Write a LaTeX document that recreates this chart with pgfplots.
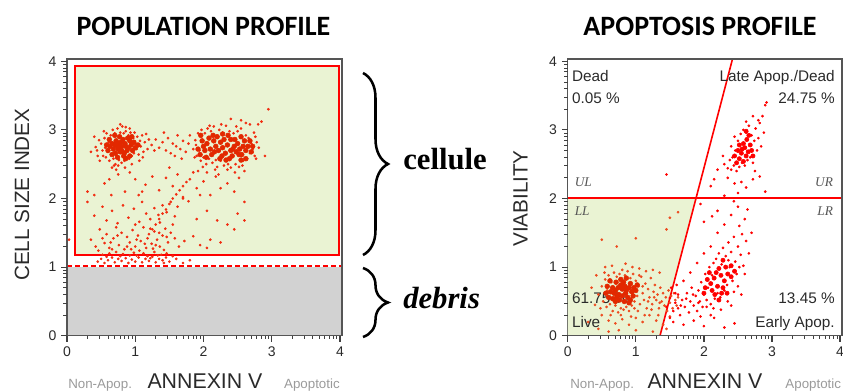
\documentclass[border=0pt]{standalone}
\usepackage{pgfplots}
\pgfplotsset{compat=1.18}
\usepackage{fontspec}
\setmainfont{Liberation Sans}
\newfontfamily\titlefont{Carlito}
\newfontfamily\serifont{Liberation Serif}
\usetikzlibrary{decorations.pathreplacing}
\definecolor{greenfill}{HTML}{EAF3D3}
\definecolor{grayfill}{HTML}{D2D2D2}
\definecolor{ptred}{HTML}{F22C10}
\definecolor{ptlive}{HTML}{EE4A1E}
\definecolor{ptcore}{HTML}{E22800}
\definecolor{framegray}{HTML}{555555}
\definecolor{ticktext}{HTML}{2A2A2A}
\definecolor{lightlab}{HTML}{9A9A9A}
\tikzset{majt/.style={draw=black!75, line width=0.9pt}, mint/.style={draw=black!75, line width=0.6pt}}
\newcommand\flowticks[4]{%
  \foreach \v in {0,1,2,3,4}{
    \draw[majt] ({#1pt+\v*#3pt},{#2pt}) -- ++(0pt,-4.5pt);
    \draw[majt] ({#1pt},{#2pt+\v*#4pt}) -- ++(-4.5pt,0pt);
  }
  \foreach \i in {0,1,2,3}{\foreach \m in {0.301,0.477,0.602,0.699,0.778,0.845,0.903,0.954}{
    \draw[mint] ({#1pt+(\i+\m)*#3pt},{#2pt}) -- ++(0pt,-2.8pt);
    \draw[mint] ({#1pt},{#2pt+(\i+\m)*#4pt}) -- ++(-2.8pt,0pt);
  }}
}
\pgfplotsset{flowaxis/.style={
  scale only axis,
  xmin=0, xmax=4.03, ymin=0, ymax=4.03,
  xtick={0,1,2,3,4}, ytick={0,1,2,3,4},
  xtick align=outside, ytick align=outside,
  xtick pos=bottom, ytick pos=left,
  major tick length=4.5pt,
  major tick style={draw=none},
  axis line style={draw=framegray, line width=1.1pt},
  /pgf/number format/assume math mode=true,
  tick label style={font=\fontsize{10.5}{12}\selectfont, text=ticktext},
}}
\begin{document}
\begin{tikzpicture}
\useasboundingbox (0,0) rectangle (632.25pt,-294pt);
% ===================== LEFT: POPULATION PROFILE =====================
\begin{axis}[flowaxis, at={(50.25pt,-251.8pt)}, anchor=south west,
  width=206.3pt, height=207.4pt]
\addplot[fill=grayfill, draw=none] coordinates {(0,0) (4.03,0) (4.03,1.0) (0,1.0)} -- cycle;
\addplot[fill=greenfill, draw=none] coordinates {(0.12,1.17) (3.98,1.17) (3.98,3.93) (0.12,3.93)} -- cycle;
\addplot[red, line width=1.5pt] coordinates {(0.12,1.17) (3.98,1.17) (3.98,3.93) (0.12,3.93)} -- cycle;
\addplot[red, line width=1.2pt, dash pattern=on 4pt off 2pt] coordinates {(0,1.02) (4.03,1.02)};
% sparse points
\addplot[only marks, mark=*, mark size=0.8pt, color=ptred] coordinates {
(0.45,2.62)(0.50,2.80)(0.52,2.70)(0.55,2.88)(0.57,2.60)(0.58,2.95)(0.60,2.68)(0.61,2.82)(0.62,2.55)(0.64,2.92)
(0.65,2.64)(0.67,3.00)(0.68,2.58)(0.70,2.95)(0.71,2.50)(0.73,2.62)(0.74,3.02)(0.76,2.56)(0.78,2.96)(0.80,2.52)
(0.81,3.05)(0.83,2.95)(0.84,2.55)(0.86,2.98)(0.87,2.60)(0.90,2.92)(0.91,2.58)(0.93,2.96)(0.95,2.62)(0.97,2.88)
(0.98,2.66)(1.00,2.80)(1.02,2.72)(1.03,2.90)(1.05,2.64)(1.07,2.84)(1.08,2.76)(1.10,2.92)(1.12,2.68)(1.14,2.82)
(1.16,2.94)(1.18,2.72)(1.20,2.86)(1.24,2.78)(0.42,2.75)(0.48,2.55)(0.66,2.45)(0.72,2.42)(0.85,2.45)(0.75,2.48)
(0.95,2.50)(1.06,2.55)(0.40,2.90)(0.54,2.98)(0.86,3.04)(0.92,3.02)(1.28,2.70)(0.35,2.68)(0.47,2.85)(0.53,2.62)
(0.78,3.08)(0.69,2.48)(0.99,2.96)(1.11,2.60)(0.44,2.70)(0.56,2.74)
(1.35,2.74)(1.40,2.82)(1.45,2.70)(1.48,2.88)(1.52,2.66)(1.55,2.80)(1.60,2.76)(1.62,2.92)(1.66,2.72)(1.70,2.84)
(1.74,2.68)(1.78,2.80)(1.42,2.96)(1.58,2.62)(1.30,2.86)(1.68,2.58)(1.80,2.92)(1.50,2.45)
(1.85,2.72)(1.88,2.85)(1.90,2.62)(1.92,2.95)(1.94,2.70)(1.96,2.55)(1.97,3.00)(2.00,2.60)(2.02,2.95)(2.04,2.50)
(2.06,3.02)(2.08,2.58)(2.11,2.98)(2.13,2.52)(2.15,3.05)(2.18,2.56)(2.20,2.46)(2.23,3.00)(2.25,2.55)(2.28,2.96)
(2.30,2.48)(2.33,3.06)(2.36,2.50)(2.38,2.98)(2.40,2.45)(2.44,2.95)(2.47,2.50)(2.50,2.98)(2.52,2.46)(2.55,3.02)
(2.58,2.55)(2.62,2.92)(2.64,2.58)(2.66,2.88)(2.68,2.66)(2.70,2.80)(2.72,2.72)(2.74,2.96)(2.75,2.62)(2.78,2.82)
(2.62,3.10)(2.68,3.08)(2.55,3.14)(2.40,3.16)(2.80,3.08)(2.85,3.12)(2.95,3.30)(2.90,2.62)(1.92,2.40)(2.05,2.38)
(2.22,2.35)(2.46,2.38)(2.60,2.40)(1.87,2.60)(1.99,2.46)(2.17,2.42)(2.35,2.42)(2.57,2.48)(2.77,2.58)(2.76,2.90)
(2.48,3.05)(2.26,3.08)(2.09,3.06)(1.89,2.78)(2.81,2.74)
(0.45,1.08)(0.50,1.12)(0.55,1.06)(0.60,1.10)(0.66,1.14)(0.70,1.07)(0.75,1.12)(0.80,1.09)(0.86,1.13)(0.90,1.06)
(0.95,1.11)(1.00,1.08)(1.05,1.14)(1.10,1.07)(1.15,1.12)(1.20,1.09)(1.25,1.15)(1.30,1.07)(1.35,1.12)(1.40,1.10)
(1.45,1.14)(1.50,1.08)(1.60,1.12)(1.70,1.06)(1.80,1.10)(0.52,1.18)(0.62,1.20)(0.72,1.22)(0.82,1.19)(0.98,1.21)
(1.12,1.20)(1.28,1.22)(1.38,1.18)(1.46,1.20)(1.18,1.16)(1.33,1.17)(0.92,1.17)(0.58,1.15)(0.78,1.16)(1.02,1.17)
(1.22,1.13)(1.42,1.06)(1.55,1.16)
(0.35,1.40)(0.42,1.30)(0.48,1.55)(0.55,1.35)(0.58,1.48)(0.62,1.28)(0.68,1.42)(0.72,1.58)(0.76,1.32)(0.80,1.50)
(0.84,1.26)(0.88,1.44)(0.92,1.36)(0.96,1.54)(1.00,1.30)(1.04,1.46)(1.08,1.38)(1.12,1.58)(1.16,1.28)(1.20,1.48)
(1.24,1.34)(1.28,1.52)(1.32,1.40)(1.36,1.30)(1.40,1.46)(1.44,1.56)(1.48,1.36)(1.52,1.50)(1.58,1.42)(1.64,1.30)
(1.72,1.38)(1.85,1.45)(1.95,1.32)(2.05,1.28)(2.10,1.40)(2.25,1.36)(0.46,1.24)(0.66,1.26)(1.06,1.24)(1.26,1.27)
(1.42,1.25)(0.88,1.30)(1.18,1.42)(1.35,1.50)(0.52,1.42)(0.74,1.46)(0.94,1.26)(1.14,1.34)(1.30,1.32)(1.46,1.44)
(0.64,1.36)(1.02,1.40)(1.22,1.56)
(0.30,1.95)(0.40,1.75)(0.52,1.88)(0.58,1.68)(0.66,1.82)(0.74,1.64)(0.82,1.90)(0.90,1.72)(0.98,1.85)(1.06,1.66)
(1.10,1.95)(1.16,1.78)(1.22,1.70)(1.28,1.86)(1.34,1.76)(1.40,1.90)(1.46,1.80)(1.52,1.95)(1.58,1.74)(1.62,1.88)
(1.70,2.00)(1.78,1.96)(1.90,1.70)(2.05,1.82)(2.35,1.62)(2.45,1.55)(2.50,1.78)(2.60,1.68)(2.20,1.68)(1.00,1.62)
(1.36,1.65)(1.55,1.62)
(1.25,1.55)(1.30,1.62)(1.35,1.70)(1.40,1.78)(1.45,1.84)(1.50,1.92)(1.55,2.00)(1.60,2.06)(1.65,2.12)(1.70,2.18)
(1.75,2.24)(1.80,2.28)
(0.55,2.22)(0.65,2.05)(0.75,2.35)(0.85,2.10)(1.00,2.28)(1.05,2.05)(1.15,2.20)(1.25,2.32)(1.35,2.12)(1.45,2.30)
(1.55,2.18)(1.85,2.38)(1.90,2.15)(2.00,2.25)(2.10,2.05)(2.18,2.32)(2.25,2.15)(2.35,2.22)(2.45,2.10)(2.52,2.30)
(2.60,1.95)(0.40,2.05)(0.30,2.10)(1.95,2.05)(1.62,2.35)(1.70,2.02)(1.10,2.10)(0.92,2.38)(0.62,2.28)(0.03,1.40)
};
% dense cores
\addplot[only marks, mark=*, mark size=1.8pt, color=ptcore] coordinates {
(0.70,2.78)(0.75,2.72)(0.80,2.76)(0.85,2.80)(0.90,2.74)(0.78,2.68)(0.72,2.84)(0.88,2.70)(0.82,2.86)(0.68,2.72)
(0.94,2.78)(0.76,2.80)(0.84,2.66)(0.66,2.80)(0.92,2.84)(0.80,2.70)(0.74,2.76)(0.86,2.76)(0.79,2.82)(0.71,2.66)
(0.96,2.70)(0.63,2.76)(0.89,2.88)(0.77,2.90)(0.83,2.62)(0.60,2.70)(0.62,2.86)(0.98,2.82)(1.00,2.74)(0.86,2.58)
(0.74,2.60)(0.70,2.92)(0.95,2.90)(0.58,2.78)(1.04,2.78)(0.66,2.64)(0.92,2.62)
(2.05,2.80)(2.10,2.72)(2.15,2.84)(2.18,2.76)(2.22,2.70)(2.25,2.82)(2.28,2.74)(2.32,2.66)(2.35,2.78)(2.40,2.70)
(2.42,2.62)(2.45,2.76)(2.48,2.68)(2.50,2.80)(2.53,2.72)(2.56,2.64)(2.58,2.76)(2.62,2.70)(2.12,2.64)(2.20,2.90)
(2.30,2.86)(2.38,2.58)(2.46,2.86)(2.55,2.56)(2.60,2.84)(2.02,2.70)(2.08,2.88)(2.27,2.62)(2.52,2.64)(2.65,2.76)
(2.00,2.76)(2.16,2.68)(2.43,2.72)(2.36,2.92)(1.98,2.84)(1.92,2.72)(1.95,2.64)(2.04,2.60)(2.24,2.58)(2.33,2.56)
(2.70,2.68)(2.68,2.84)(2.62,2.58)(2.14,2.92)(2.28,2.94)(2.40,2.86)(2.55,2.90)(1.96,2.92)(2.72,2.76)
};
\draw[framegray, line width=1.1pt] (rel axis cs:0,0) rectangle (rel axis cs:1,1);
\end{axis}
% ===================== RIGHT: APOPTOSIS PROFILE =====================
\begin{axis}[flowaxis, at={(425.8pt,-251.8pt)}, anchor=south west,
  width=205.8pt, height=207.4pt]
\addplot[fill=greenfill, draw=none] coordinates {(0,0) (1.355,0) (1.883,2) (0,2)} -- cycle;
\addplot[red, line width=1.5pt] coordinates {(0,2) (4.03,2)};
\addplot[red, line width=1.2pt] coordinates {(1.355,0) (2.419,4.03)};
% live region (orange-red)
\addplot[only marks, mark=*, mark size=0.8pt, color=ptlive] coordinates {
(0.45,0.60)(0.50,0.72)(0.52,0.50)(0.55,0.82)(0.57,0.42)(0.58,0.66)(0.60,0.88)(0.62,0.46)(0.64,0.78)(0.66,0.36)
(0.68,0.92)(0.70,0.44)(0.72,0.86)(0.74,0.34)(0.76,0.90)(0.78,0.40)(0.80,0.96)(0.82,0.38)(0.84,0.88)(0.86,0.42)
(0.88,0.94)(0.90,0.36)(0.92,0.84)(0.94,0.44)(0.96,0.90)(0.98,0.50)(1.00,0.80)(1.02,0.58)(1.04,0.72)(1.06,0.46)
(1.08,0.86)(1.10,0.62)(1.12,0.52)(1.14,0.76)(1.16,0.40)(1.18,0.68)(1.20,0.56)(1.22,0.84)(1.24,0.46)(1.26,0.64)
(1.28,0.74)(1.30,0.52)(1.32,0.60)(1.34,0.40)(1.36,0.70)(1.38,0.50)(1.40,0.62)(1.42,0.44)(1.44,0.56)(1.46,0.36)
(1.48,0.66)(1.50,0.48)(1.52,0.58)(1.54,0.40)(1.56,0.62)(1.58,0.52)(1.60,0.44)(1.62,0.56)(0.50,0.30)(0.60,0.22)
(0.70,0.18)(0.80,0.24)(0.90,0.16)(1.00,0.26)(1.10,0.20)(1.20,0.30)(1.30,0.22)(1.40,0.16)(1.50,0.28)(0.40,0.45)
(0.35,0.70)(0.42,0.88)(0.55,1.00)(0.65,1.02)(0.85,1.05)(0.95,1.00)(1.05,0.98)(1.15,0.94)(1.25,0.96)(1.35,0.92)
(0.30,0.20)(0.45,0.10)(0.60,0.06)(0.75,0.08)(1.00,0.08)(1.25,0.06)(1.45,0.10)(0.50,1.40)(0.72,1.30)(1.00,1.42)
(1.45,1.55)(1.50,1.72)(1.62,1.80)(0.48,0.40)(0.54,0.92)(0.63,0.30)(0.78,0.30)(0.93,0.28)(1.03,0.36)(1.13,0.30)
(1.23,0.38)(1.33,0.30)(1.10,0.72)(1.18,0.50)(1.27,0.56)(1.35,0.48)(1.05,0.88)(0.98,0.40)
};
\addplot[only marks, mark=*, mark size=1.8pt, color=ptcore] coordinates {
(0.70,0.66)(0.75,0.60)(0.80,0.68)(0.85,0.62)(0.90,0.70)(0.78,0.74)(0.72,0.56)(0.88,0.56)(0.82,0.78)(0.66,0.70)
(0.94,0.64)(0.76,0.52)(0.84,0.72)(0.68,0.62)(0.92,0.76)(0.80,0.58)(0.74,0.70)(0.86,0.66)(0.63,0.64)(0.97,0.70)
(0.78,0.82)(0.83,0.50)(0.71,0.78)(0.90,0.48)(0.60,0.56)(0.58,0.72)(0.62,0.80)(0.96,0.58)(1.00,0.66)(0.86,0.84)
(0.70,0.50)(0.66,0.54)(0.92,0.52)(0.56,0.62)(1.02,0.74)
};
% apoptotic populations (pure red)
\addplot[only marks, mark=*, mark size=0.8pt, color=red] coordinates {
(1.45,0.42)(1.50,0.55)(1.55,0.36)(1.58,0.48)(1.62,0.60)(1.65,0.30)(1.68,0.52)(1.72,0.42)(1.75,0.62)(1.78,0.34)
(1.80,0.50)(1.82,0.70)(1.85,0.44)(1.88,0.58)(1.90,0.36)(1.92,0.66)(1.94,0.50)(1.96,0.78)(1.98,0.42)(2.00,0.60)
(2.02,0.90)(2.04,0.52)(2.06,0.70)(2.08,1.00)(2.10,0.46)(2.12,0.88)(2.14,1.06)(2.16,0.54)(2.18,1.12)(2.20,0.62)
(2.22,1.20)(2.24,0.56)(2.26,1.04)(2.28,1.28)(2.30,0.66)(2.32,1.16)(2.34,0.74)(2.36,1.36)(2.38,1.00)(2.40,1.22)
(2.42,0.80)(2.44,1.44)(2.46,1.08)(2.48,0.90)(2.50,1.30)(2.52,1.60)(2.54,1.18)(2.56,1.48)(2.58,1.02)(2.60,1.70)
(2.62,1.38)(2.64,1.84)(2.50,1.88)(2.40,1.76)(2.30,1.62)(2.20,1.50)(2.10,1.30)(2.00,1.20)(1.90,1.06)(1.80,0.92)
(1.70,0.80)(1.60,0.74)(1.55,0.20)(1.70,0.16)(1.85,0.22)(2.00,0.14)(2.15,0.26)(2.30,0.12)(2.45,0.18)(1.95,0.28)
(2.10,0.30)(2.25,0.38)(2.40,0.44)(2.55,0.60)(2.60,0.90)(2.66,1.20)(2.70,1.50)(2.20,1.82)(2.00,1.66)(2.44,1.96)
(1.95,1.92)(2.12,1.74)(2.35,0.50)(2.50,0.72)(1.50,0.26)(1.62,0.40)(1.52,0.70)(1.58,0.62)(1.66,0.44)(1.74,0.54)
(1.84,0.60)(1.92,0.48)(2.04,0.42)(2.14,0.40)(2.44,0.64)(2.52,1.00)(2.36,1.10)
(2.30,2.50)(2.35,2.44)(2.38,2.56)(2.40,2.42)(2.42,2.60)(2.44,2.48)(2.46,2.70)(2.48,2.40)(2.50,2.84)(2.52,2.46)
(2.54,2.94)(2.56,2.52)(2.58,3.00)(2.60,2.48)(2.62,2.96)(2.64,2.56)(2.66,3.06)(2.68,2.60)(2.70,2.92)(2.72,2.52)
(2.74,2.84)(2.76,3.02)(2.78,2.70)(2.80,2.88)(2.82,3.10)(2.84,2.76)(2.86,3.20)(2.88,2.96)(2.90,3.36)(2.92,3.40)
(2.80,3.14)(2.72,3.20)(2.62,3.12)(2.45,2.90)(2.40,2.76)(2.35,2.30)(2.45,2.22)(2.55,2.24)(2.62,2.16)(2.72,2.28)
(2.82,2.32)(2.90,2.10)(2.20,2.42)(2.15,2.28)(2.10,2.18)(2.30,2.04)(2.50,2.08)(1.45,2.35)(2.28,2.62)(2.75,2.40)
};
\addplot[only marks, mark=*, mark size=1.6pt, color=red] coordinates {
(2.10,0.76)(2.15,0.84)(2.20,0.72)(2.25,0.88)(2.30,0.80)(2.18,0.92)(2.12,0.66)(2.28,0.70)(2.22,0.98)(2.35,0.90)
(2.05,0.82)(2.32,1.00)(2.26,0.62)(2.40,0.86)(2.16,0.60)(2.02,0.70)(2.08,0.92)(2.22,0.52)(2.34,0.62)(2.40,1.02)
(2.45,0.94)(2.00,0.62)(2.28,1.10)
(2.55,2.66)(2.60,2.74)(2.65,2.68)(2.58,2.80)(2.52,2.58)(2.62,2.62)(2.68,2.78)(2.56,2.72)(2.63,2.86)(2.50,2.70)
(2.48,2.52)(2.70,2.70)(2.45,2.62)(2.52,2.78)(2.66,2.92)(2.72,2.62)(2.58,2.54)(2.62,2.98)
};
% quadrant labels
\begin{scope}[every node/.style={font=\fontsize{11.5}{13}\selectfont, text=ticktext, inner sep=0pt}]
\node[anchor=base west] at (axis cs:0.06,3.71) {Dead};
\node[anchor=base west] at (axis cs:0.06,3.38) {0.05 \%};
\node[anchor=base east] at (axis cs:3.925,3.71) {Late Apop./Dead};
\node[anchor=base east] at (axis cs:3.925,3.38) {24.75 \%};
\node[anchor=base west] at (axis cs:0.06,0.477) {61.75 \%};
\node[anchor=base west] at (axis cs:0.06,0.127) {Live};
\node[anchor=base east] at (axis cs:3.925,0.477) {13.45 \%};
\node[anchor=base east] at (axis cs:3.925,0.127) {Early Apop.};
\end{scope}
\begin{scope}[every node/.style={font=\serifont\itshape\fontsize{10}{12}\selectfont, text=ticktext!80, inner sep=0pt}]
\node[anchor=base west] at (axis cs:0.10,2.17) {UL};
\node[anchor=base east] at (axis cs:3.90,2.17) {UR};
\node[anchor=base west] at (axis cs:0.10,1.745) {LL};
\node[anchor=base east] at (axis cs:3.90,1.745) {LR};
\end{scope}
\draw[framegray, line width=1.1pt] (rel axis cs:0,0) rectangle (rel axis cs:1,1);
\end{axis}
% ===================== TICKS (log-style minor ticks) =====================
\flowticks{50.25}{-251.8}{51.19}{51.464}
\flowticks{425.8}{-251.8}{51.067}{51.464}
% ===================== TEXT AROUND =====================
\node[font=\titlefont\bfseries\fontsize{21}{24}\selectfont, anchor=base] at (152.6pt,-26.3pt) {POPULATION PROFILE};
\node[font=\titlefont\bfseries\fontsize{21}{24}\selectfont, anchor=base] at (525pt,-26.3pt) {APOPTOSIS PROFILE};
\node[font=\fontsize{15.5}{17}\selectfont, text=ticktext, rotate=90] at (16.5pt,-146pt) {CELL SIZE INDEX};
\node[font=\fontsize{15.5}{17}\selectfont, text=ticktext, rotate=90] at (390.4pt,-148.9pt) {VIABILITY};
\node[font=\fontsize{16}{18}\selectfont, text=ticktext, anchor=base] at (153.75pt,-291pt) {ANNEXIN V};
\node[font=\fontsize{16}{18}\selectfont, text=ticktext, anchor=base] at (528.75pt,-291pt) {ANNEXIN V};
\node[font=\fontsize{10}{12}\selectfont, text=lightlab, anchor=base west, inner sep=0pt] at (51pt,-291pt) {Non-Apop.};
\node[font=\fontsize{10}{12}\selectfont, text=lightlab, anchor=base east, inner sep=0pt] at (255pt,-291pt) {Apoptotic};
\node[font=\fontsize{10}{12}\selectfont, text=lightlab, anchor=base west, inner sep=0pt] at (427.5pt,-291pt) {Non-Apop.};
\node[font=\fontsize{10}{12}\selectfont, text=lightlab, anchor=base east, inner sep=0pt] at (631pt,-291pt) {Apoptotic};
% braces
\draw[decorate, decoration={brace, amplitude=18.75pt}, line width=1.9pt] (272.25pt,-54.75pt) -- (272.25pt,-191.25pt);
\draw[decorate, decoration={brace, amplitude=18.75pt}, line width=1.9pt] (272.25pt,-201pt) -- (272.25pt,-252.75pt);
\node[font=\serifont\bfseries\fontsize{23}{26}\selectfont, anchor=base west, inner sep=0pt] at (302.25pt,-127.5pt) {cellule};
\node[font=\serifont\bfseries\itshape\fontsize{23}{26}\selectfont, anchor=base west, inner sep=0pt] at (302.25pt,-231pt) {debris};
\end{tikzpicture}
\end{document}
